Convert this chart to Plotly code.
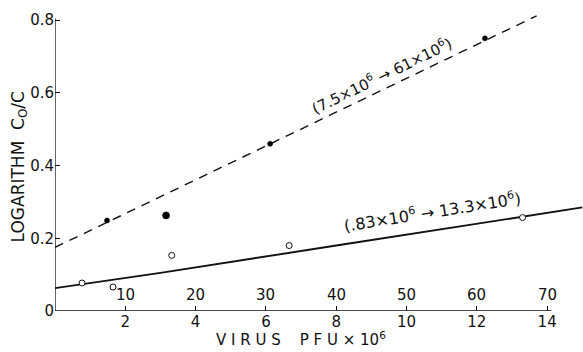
import plotly.graph_objects as go

# Data
filled_x = [1.48, 3.16, 6.12, 12.23]
filled_y = [0.249, 0.263, 0.46, 0.75]
open_x = [0.77, 1.65, 3.32, 6.66, 13.3]
open_y = [0.077, 0.066, 0.153, 0.18, 0.257]

# Fitted lines (endpoints)
dash_x = [0.0, 13.7]
dash_y = [0.175, 0.812]
solid_x = [0.0, 3.0, 8.0, 15.0]
solid_y = [0.063, 0.105, 0.18, 0.285]

x_ticks = [2, 4, 6, 8, 10, 12, 14]
x_tick_text = ["2", "4", "6", "8", "10", "12", "14"]
alt_labels = ["10", "20", "30", "40", "50", "60", "70"]
y_ticks = [0, 0.2, 0.4, 0.6, 0.8]
y_tick_text = ["0", "0.2", "0.4", "0.6", "0.8"]

FONT = "DejaVu Sans"
INK = "#111111"

fig = go.Figure()
fig.add_trace(go.Scatter(x=dash_x, y=dash_y, mode="lines",
                         line=dict(color=INK, width=1.4, dash="9px,7px"),
                         hoverinfo="skip", showlegend=False))
fig.add_trace(go.Scatter(x=solid_x, y=solid_y, mode="lines",
                         line=dict(color=INK, width=1.9),
                         hoverinfo="skip", showlegend=False))
fig.add_trace(go.Scatter(x=filled_x, y=filled_y, mode="markers",
                         marker=dict(color="black", size=[5, 7, 5, 5], symbol="circle",
                                     opacity=1, line=dict(color="black", width=0.6)),
                         showlegend=False))
fig.add_trace(go.Scatter(x=open_x, y=open_y, mode="markers",
                         marker=dict(color="white", size=6, symbol="circle",
                                     line=dict(color=INK, width=1)),
                         showlegend=False))

# secondary scale labels above the x axis
for xv, lab in zip(x_ticks, alt_labels):
    fig.add_annotation(x=xv, y=0.044, text=lab, showarrow=False,
                       font=dict(family=FONT, size=15, color=INK),
                       xref="x", yref="y")

# line labels
fig.add_annotation(x=9.3, y=0.648, text="(7.5×10<sup>6</sup> → 61×10<sup>6</sup>)",
                   textangle=-26, showarrow=False,
                   font=dict(family=FONT, size=15, color=INK))
fig.add_annotation(x=10.75, y=0.273, text="(.83×10<sup>6</sup> → 13.3×10<sup>6</sup>)",
                   textangle=-9, showarrow=False,
                   font=dict(family=FONT, size=16, color=INK))

# axis titles
fig.add_annotation(x=7.0, y=0, xref="x", yref="paper", yshift=-40,
                   text="V I R U S    P F U × 10<sup>6</sup>", showarrow=False,
                   yanchor="bottom", font=dict(family=FONT, size=15, color=INK))
fig.add_annotation(x=0, y=0.395, xref="paper", yref="y", xshift=-36,
                   text="LOGARITHM  C<sub>O</sub>/C", textangle=-90, showarrow=False,
                   xanchor="center", font=dict(family=FONT, size=17, color=INK))

# axis lines
fig.add_shape(type="line", x0=0, x1=14.12, y0=0, y1=0, xref="x", yref="y",
              line=dict(color=INK, width=1.3))
fig.add_shape(type="line", x0=0, x1=0, y0=0, y1=0.805, xref="x", yref="y",
              line=dict(color=INK, width=1.3))

fig.update_xaxes(range=[0, 15.02], tickmode="array", tickvals=x_ticks,
                 ticktext=x_tick_text, ticks="inside", ticklen=5, tickcolor=INK,
                 showline=False, showgrid=False, zeroline=False,
                 tickfont=dict(family=FONT, size=15, color=INK))
fig.update_yaxes(range=[0, 0.85], tickmode="array", tickvals=y_ticks,
                 ticktext=y_tick_text, ticks="inside", ticklen=5, tickcolor=INK,
                 showline=False, showgrid=False, zeroline=False,
                 tickfont=dict(family=FONT, size=15, color=INK))

fig.update_layout(width=583, height=352,
                  margin=dict(l=55, r=0, t=2, b=41),
                  paper_bgcolor="white", plot_bgcolor="white")

fig.write_html("out.html")
